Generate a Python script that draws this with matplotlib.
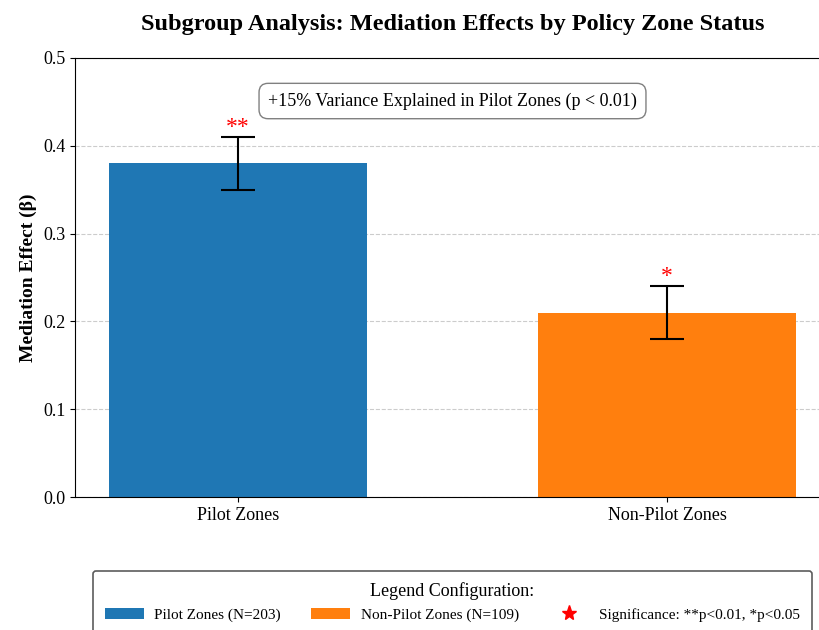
import matplotlib
matplotlib.use("Agg")
import matplotlib.pyplot as plt
from matplotlib.patches import Patch
from matplotlib.lines import Line2D

plt.rcParams['font.family'] = ['Liberation Serif', 'DejaVu Serif']

categories = ["Pilot Zones", "Non-Pilot Zones"]
effects = [0.38, 0.21]
errors = [0.03, 0.03]
sig_labels = ["**", "*"]
legend_labels = ["Pilot Zones (N=203)", "Non-Pilot Zones (N=109)", "Significance: **p<0.01, *p<0.05"]
colors = ["#1f77b4", "#ff7f0e"]

fig = plt.figure(figsize=(8.2, 6.3), dpi=100)
ax = fig.add_axes([75/820, 133/630, 755/820, 439/630])

x = list(range(len(categories)))
ax.bar(x, effects, width=0.6, color=colors, yerr=errors, capsize=12,
       error_kw=dict(ecolor='black', elinewidth=1.5, capthick=1.5))

for xi, v, e, s in zip(x, effects, errors, sig_labels):
    ax.text(xi, v + e - 0.001, s, ha='center', va='bottom', color='red', fontsize=17)

ax.set_xticks(x)
ax.set_xticklabels(categories, fontsize=13)
ax.set_ylim(0, 0.5)
ax.set_yticks([0.0, 0.1, 0.2, 0.3, 0.4, 0.5])
ax.tick_params(axis='y', labelsize=13)
ax.set_ylabel("Mediation Effect (β)", fontsize=14, fontweight='bold')
ax.set_title("Subgroup Analysis: Mediation Effects by Policy Zone Status",
             fontsize=17.5, fontweight='bold', pad=20)
ax.yaxis.grid(True, linestyle='--', color='gray', alpha=0.4)
ax.set_axisbelow(True)

ax.text(0.5, 0.451, "+15% Variance Explained in Pilot Zones (p < 0.01)",
        transform=ax.get_yaxis_transform(), ha='center', va='center', fontsize=13,
        bbox=dict(boxstyle='round,pad=0.5', facecolor='white', edgecolor='gray'))

handles = [Patch(facecolor=colors[0]), Patch(facecolor=colors[1]),
           Line2D([0], [0], marker='*', color='red', linestyle='None', markersize=11)]
leg = ax.legend(handles, legend_labels, loc='upper center', bbox_to_anchor=(0.5, -0.168),
                borderaxespad=0, ncol=3, frameon=True, fontsize=11,
                title="Legend Configuration:", title_fontsize=13, fancybox=True,
                borderpad=0.75, columnspacing=2.0, handlelength=2.55, handleheight=0.8,
                handletextpad=0.7)
leg.get_frame().set_edgecolor('#333333')
leg.get_frame().set_linewidth(1.2)

fig.savefig("out.png", dpi=100)
